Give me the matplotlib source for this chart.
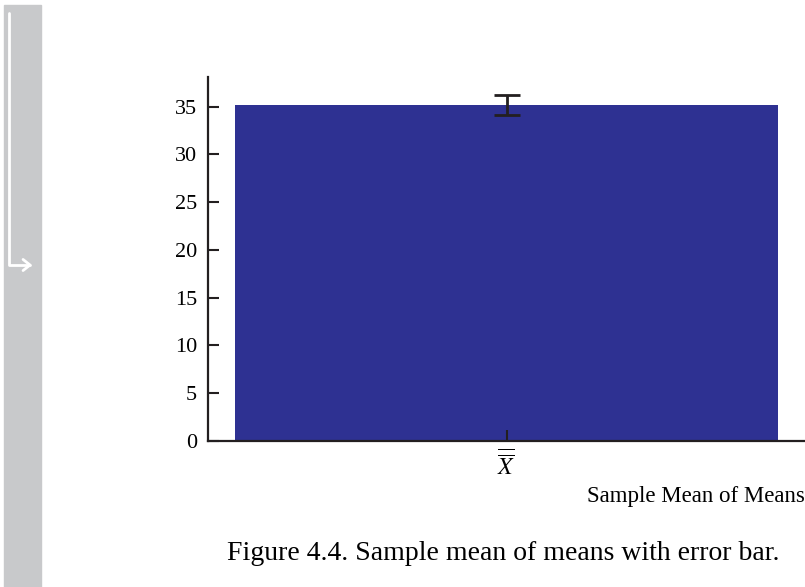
import matplotlib
matplotlib.use("Agg")
import matplotlib.pyplot as plt
from matplotlib.patches import Rectangle, FancyArrowPatch

# Data
categories = [r"$\overline{\overline{X}}$"]
means = [35.2]
errors = [1.05]
yticks = [0, 5, 10, 15, 20, 25, 30, 35]

plt.rcParams['font.family'] = ['Liberation Serif', 'DejaVu Serif']
plt.rcParams['mathtext.fontset'] = 'stix'

ink = '#231f20'
fig = plt.figure(figsize=(8.05, 5.87), dpi=100)

# page side bar
fig.patches.append(Rectangle((4 / 805, 0), 37 / 805, 1 - 5 / 587,
                             transform=fig.transFigure, color='#c8c9cb', zorder=0))
fig.add_artist(FancyArrowPatch((9 / 805, 1 - 10 / 587), (35 / 805, 1 - 265 / 587),
                               connectionstyle="angle,angleA=-90,angleB=0,rad=0",
                               arrowstyle="->,head_length=5,head_width=4",
                               color='white', lw=2, transform=fig.transFigure))

ax = fig.add_axes([208 / 805, 1 - 441 / 587, 597 / 805, 364 / 587])
ax.bar(range(len(means)), means, width=1.0, color='#2e3192', zorder=1)
ax.errorbar(range(len(means)), means, yerr=errors, fmt='none', ecolor=ink,
            elinewidth=2, capsize=9.5, capthick=2, zorder=3)

ax.set_xlim(-0.55, 0.55)
ax.set_ylim(0, 38.1)
ax.set_yticks(yticks)
ax.set_xticks(range(len(categories)))
ax.set_xticklabels(categories, fontsize=17)
ax.tick_params(axis='y', direction='in', length=8, width=1.5, color=ink,
               labelsize=16, pad=8)
ax.tick_params(axis='x', direction='in', length=8, width=1.5, color=ink, pad=7)
for s in ['top', 'right']:
    ax.spines[s].set_visible(False)
for s in ['left', 'bottom']:
    ax.spines[s].set_linewidth(1.6)
    ax.spines[s].set_color(ink)
    ax.spines[s].set_zorder(4)

ax.set_xlabel('Sample Mean of Means', fontsize=16.5, loc='right', labelpad=4)

fig.text(503 / 805, 1 - 553 / 587, 'Figure 4.4. Sample mean of means with error bar.',
         ha='center', va='center', fontsize=20)

fig.savefig('out.png', dpi=100)
